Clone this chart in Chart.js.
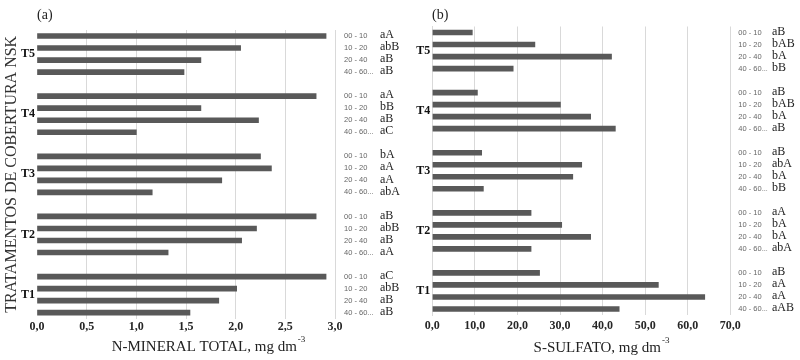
<!DOCTYPE html>
<html><head><meta charset="utf-8">
<script src="https://cdn.jsdelivr.net/npm/chart.js@4"></script>
<style>
html,body{margin:0;padding:0;background:#fff;overflow:hidden}
#wrap{position:relative;width:800px;height:360px}
canvas{position:absolute;top:0}
#ca{left:0}#cb{left:400px}
</style></head>
<body><div id="wrap"><canvas id="ca" width="400" height="360"></canvas><canvas id="cb" width="400" height="360"></canvas></div>
<script>
// ---- data ----
const treatments = ['T5', 'T4', 'T3', 'T2', 'T1'];
const depths = ['00 - 10', '10 - 20', '20 - 40', '40 - 60...'];
const nMineral = [2.91, 2.05, 1.65, 1.48,  2.81, 1.65, 2.23, 1.00,  2.25, 2.36, 1.86, 1.16,  2.81, 2.21, 2.06, 1.32,  2.91, 2.01, 1.83, 1.54];
const nLetters = ['aA', 'abB', 'aB', 'aB',  'aA', 'bB', 'aB', 'aC',  'bA', 'aA', 'aA', 'abA',  'aB', 'abB', 'aB', 'aA',  'aC', 'abB', 'aB', 'aB'];
const sSulfato = [9.4, 24.1, 42.1, 19.0,  10.6, 30.1, 37.2, 43.0,  11.6, 35.1, 33.0, 12.0,  23.2, 30.4, 37.2, 23.2,  25.2, 53.1, 64.0, 43.9];
const sLetters = ['aB', 'bAB', 'bA', 'bB',  'aB', 'bAB', 'bA', 'aB',  'aB', 'abA', 'bA', 'bB',  'aA', 'bA', 'bA', 'abA',  'aB', 'aA', 'aA', 'aAB'];
const nAxisMax = 3, nAxisStep = 0.5;
const sAxisMax = 70, sAxisStep = 10;
const nTitle = 'N-MINERAL TOTAL, mg dm';
const sTitle = 'S-SULFATO, mg dm';
const unitExp = '-3';
const yTitle = 'TRATAMENTOS DE COBERTURA NSK';

const SERIF = "'Liberation Serif', 'Times New Roman', serif";
const SANS = "'Liberation Sans', Arial, sans-serif";

function buildSlots(values, letters) {
  const keys = [], vals = [], depthLab = [], letterLab = [], groupLab = [];
  treatments.forEach((t, gi) => {
    depths.forEach((d, di) => {
      const k = gi * depths.length + di;
      keys.push(t + ' ' + d); vals.push(values[k]);
      depthLab.push(d); letterLab.push(letters[k]);
      groupLab.push(di === 1 ? t : '');
    });
    if (gi < treatments.length - 1) {
      keys.push('gap' + gi); vals.push(null);
      depthLab.push(''); letterLab.push(''); groupLab.push('');
    }
  });
  return {keys, vals, depthLab, letterLab, groupLab};
}

const textPlugin = {
  id: 'panelText',
  afterDraw(chart, args, o) {
    const ctx = chart.ctx;
    ctx.save();
    ctx.fillStyle = '#222';
    ctx.textBaseline = 'middle';
    ctx.textAlign = 'left';
    ctx.font = '14px ' + SERIF;
    ctx.fillText(o.panel, o.panelX, o.panelY);
    // x title with superscript
    ctx.font = '15px ' + SERIF;
    const w1 = ctx.measureText(o.title).width;
    ctx.font = '9px ' + SERIF;
    const w2 = ctx.measureText(unitExp).width;
    const x0 = o.titleX - (w1 + w2) / 2;
    ctx.font = '15px ' + SERIF;
    ctx.fillText(o.title, x0, o.titleY);
    ctx.font = '9px ' + SERIF;
    ctx.fillText(unitExp, x0 + w1 + 1, o.titleY - 7);
    ctx.restore();
  }
};

function makeChart(id, values, letters, cfg) {
  const s = buildSlots(values, letters);
  const fmt = v => Number(v).toFixed(1).replace('.', ',');
  return new Chart(document.getElementById(id), {
    type: 'bar',
    data: {
      labels: s.keys,
      datasets: [{
        data: s.vals,
        backgroundColor: '#595959',
        borderWidth: 0,
        barThickness: 5,
        xAxisID: 'x', yAxisID: 'y'
      }]
    },
    options: {
      indexAxis: 'y',
      responsive: false,
      animation: false,
      devicePixelRatio: 1,
      layout: {padding: {top: cfg.top, left: 0, right: 0, bottom: 0}},
      plugins: {
        legend: {display: false},
        tooltip: {enabled: false},
        panelText: {panel: cfg.panel, panelX: cfg.panelX, panelY: 15, title: cfg.title, titleX: cfg.titleX, titleY: cfg.titleY}
      },
      scales: {
        x: {
          type: 'linear', min: 0, max: cfg.max,
          border: {display: false},
          grid: {
            drawTicks: false,
            color: c => (c.tick && c.tick.value === 0 && !cfg.zeroLine) ? 'rgba(0,0,0,0)' : '#d9d9d9',
            lineWidth: 1
          },
          ticks: {stepSize: cfg.step, padding: cfg.xPad, color: '#262626', font: {family: SERIF, size: 12, weight: 'bold'}, callback: v => fmt(v), maxRotation: 0},
          afterFit: sc => { sc.height = cfg.xHeight; }
        },
        y: {
          type: 'category', position: 'left', offset: true,
          grid: {display: false, drawTicks: false},
          border: {display: cfg.zeroLine, color: '#d9d9d9'},
          ticks: {autoSkip: false, padding: 2, labelOffset: 6, color: '#111', font: {family: SERIF, size: 12, weight: 'bold'},
                  callback: (v, i) => s.groupLab[i]},
          title: {display: cfg.showYTitle, text: yTitle, color: '#333', font: {family: SERIF, size: 16}, padding: {top: 2, bottom: 0}},
          afterFit: sc => { sc.width = cfg.yWidth; }
        },
        y2: {
          type: 'category', position: 'right', offset: true, weight: 1, labels: s.depthLab,
          grid: {display: false, drawTicks: false}, border: {display: false},
          ticks: {autoSkip: false, padding: cfg.depthPad, color: '#666', font: {family: SANS, size: 7.5}},
          afterFit: sc => { sc.width = cfg.depthWidth; }
        },
        y3: {
          type: 'category', position: 'right', offset: true, weight: 2, labels: s.letterLab,
          grid: {display: false, drawTicks: false}, border: {display: false},
          ticks: {autoSkip: false, padding: cfg.letterPad, labelOffset: -1, color: '#222', font: {family: SERIF, size: 12}},
          afterFit: sc => { sc.width = cfg.letterWidth; }
        }
      }
    },
    plugins: [textPlugin]
  });
}

makeChart('ca', nMineral, nLetters, {
  panel: '(a)', panelX: 37, title: nTitle, titleX: 208, titleY: 347,
  max: nAxisMax, step: nAxisStep, top: 30, xHeight: 41.3, xPad: 1, zeroLine: false, showYTitle: true,
  yWidth: 37, depthWidth: 40, depthPad: 9, letterWidth: 25, letterPad: 5
});
makeChart('cb', sSulfato, sLetters, {
  panel: '(b)', panelX: 32, title: sTitle, titleX: 201, titleY: 348,
  max: sAxisMax, step: sAxisStep, top: 26.5, xHeight: 45, xPad: 4, zeroLine: true, showYTitle: false,
  yWidth: 32.3, depthWidth: 37, depthPad: 8, letterWidth: 32.7, letterPad: 4.7
});
</script>
</body></html>
